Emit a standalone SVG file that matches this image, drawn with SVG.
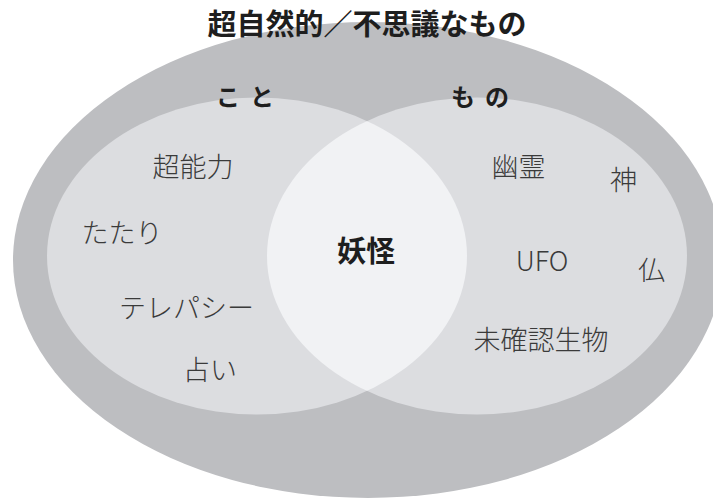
<svg xmlns="http://www.w3.org/2000/svg" width="713" height="499" viewBox="0 0 713 499">
<style>
.t{font-family:"Noto Sans CJK JP","Noto Sans",sans-serif;text-anchor:middle}
.lbl{font-size:27px;fill:#3a3a3a;font-weight:300}
.b{font-weight:700;fill:#1e1e1e}
</style>
<defs>
<clipPath id="clipL"><ellipse cx="257" cy="256" rx="210" ry="158.5"/></clipPath>
</defs>
<rect width="713" height="499" fill="#ffffff"/>
<g id="outer">
<ellipse cx="368" cy="260" rx="355" ry="238" fill="#bdbec1"/>
</g>
<g id="koto">
<ellipse cx="257" cy="256" rx="210" ry="158.5" fill="#dcdde0"/>
</g>
<g id="mono">
<ellipse cx="477" cy="256" rx="210" ry="158.5" fill="#dcdde0"/>
</g>
<g id="lens">
<ellipse cx="477" cy="256" rx="210" ry="158.5" fill="#f1f2f4" clip-path="url(#clipL)"/>
</g>
<g id="connectors"></g>
<g id="labels">
<text class="t b" x="367" y="35" font-size="29">超自然的／不思議なもの</text>
<text class="t b" x="250" y="106" font-size="24" letter-spacing="10">こと</text>
<text class="t b" x="485" y="106" font-size="24" letter-spacing="10">もの</text>
<text class="t b" x="366" y="262" font-size="29">妖怪</text>
<text class="t lbl" x="193" y="177">超能力</text>
<text class="t lbl" x="122" y="243">たたり</text>
<text class="t lbl" x="186.5" y="318">テレパシー</text>
<text class="t lbl" x="210" y="380">占い</text>
<text class="t lbl" x="518.5" y="177">幽霊</text>
<text class="t lbl" x="623.5" y="190">神</text>
<text class="t lbl" x="542" y="271" font-size="33">UFO</text>
<text class="t lbl" x="651.5" y="280">仏</text>
<text class="t lbl" x="541" y="350">未確認生物</text>
</g>
</svg>
